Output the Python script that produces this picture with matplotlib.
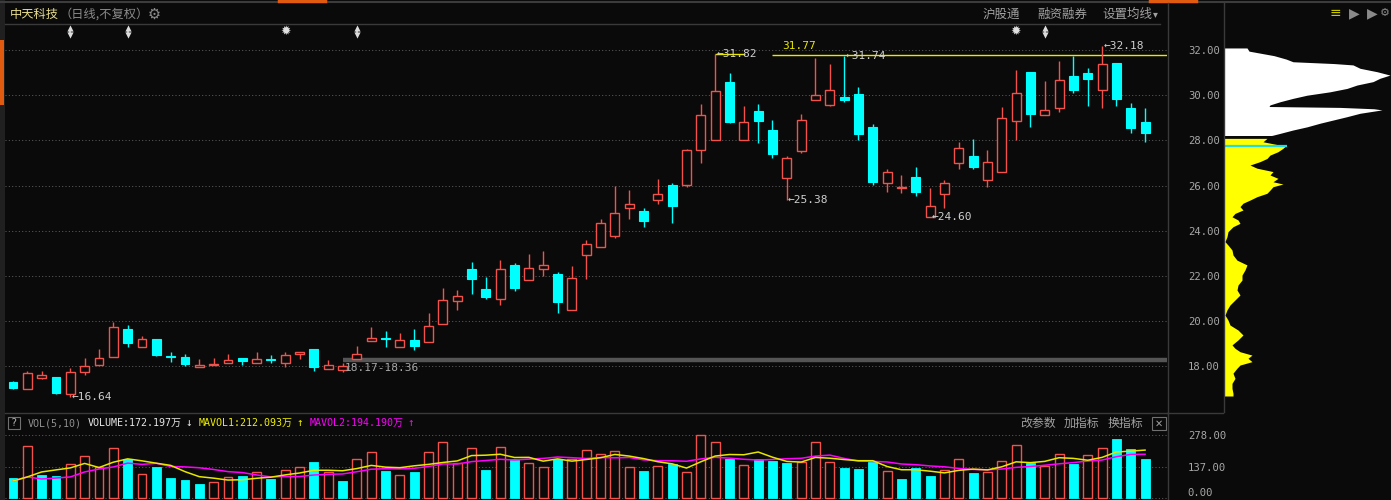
import matplotlib
matplotlib.use('Agg')
import matplotlib.pyplot as plt
import numpy as np
import pandas as pd
from matplotlib.patches import Rectangle
from matplotlib.lines import Line2D
from matplotlib.transforms import blended_transform_factory

# ---------------- data ----------------
opens = [17.31, 17.00, 17.49, 17.53, 16.78, 17.75, 18.06, 18.42, 19.65, 18.86,
         19.21, 18.43, 18.42, 17.97, 18.06, 18.15, 18.37, 18.15, 18.29, 18.15,
         18.55, 18.77, 17.88, 17.84, 18.33, 19.12, 19.22, 18.86, 19.17, 19.08,
         19.88, 20.89, 22.31, 21.42, 20.98, 22.49, 21.82, 22.31, 22.09, 20.50,
         22.93, 23.28, 23.77, 25.01, 24.88, 25.36, 26.03, 26.03, 27.58, 28.02,
         30.58, 28.02, 29.30, 28.46, 26.34, 27.53, 29.79, 29.57, 29.92, 30.05,
         28.60, 26.12, 25.88, 26.38, 24.60, 25.63, 27.00, 27.31, 26.25, 26.60,
         28.86, 31.03, 29.12, 29.43, 30.85, 30.98, 30.23, 31.42, 29.43, 28.81]
highs = [17.35, 17.80, 17.80, 17.55, 17.93, 18.37, 18.77, 19.96, 19.83, 19.35,
         19.21, 18.64, 18.55, 18.33, 18.37, 18.55, 18.37, 18.64, 18.50, 18.64,
         18.64, 18.77, 18.28, 18.15, 18.90, 19.74, 19.57, 19.48, 19.65, 20.36,
         21.47, 21.38, 22.62, 21.96, 22.70, 22.58, 22.97, 23.10, 22.18, 22.44,
         23.60, 24.52, 25.98, 25.80, 25.01, 26.29, 26.12, 27.62, 29.61, 31.82,
         30.98, 29.52, 29.61, 28.90, 27.31, 29.17, 31.65, 31.38, 31.74, 30.36,
         28.73, 26.73, 26.47, 26.82, 25.90, 26.25, 27.93, 28.06, 27.58, 29.48,
         31.12, 31.03, 30.63, 31.51, 31.74, 31.20, 32.18, 31.42, 29.65, 29.43]
lows = [17.02, 17.00, 17.44, 16.78, 16.64, 17.62, 18.06, 18.42, 18.86, 18.86,
        18.48, 18.20, 18.00, 17.97, 18.06, 18.15, 18.06, 18.15, 18.15, 17.97,
        18.33, 17.80, 17.88, 17.75, 18.33, 19.12, 18.86, 18.86, 18.73, 19.08,
        19.88, 20.50, 21.20, 20.98, 20.72, 21.34, 21.82, 22.00, 20.36, 20.50,
        21.87, 23.28, 23.68, 24.52, 24.17, 25.18, 24.35, 25.94, 27.00, 28.02,
        28.76, 28.02, 27.88, 27.22, 25.38, 27.44, 29.79, 29.52, 29.70, 28.02,
        26.03, 25.72, 25.68, 25.54, 24.60, 25.00, 26.73, 26.73, 25.94, 26.60,
        28.02, 28.60, 29.12, 29.26, 30.10, 29.52, 29.43, 29.52, 28.33, 27.93]
closes = [17.05, 17.71, 17.62, 16.82, 17.75, 18.00, 18.37, 19.74, 19.04, 19.21,
          18.50, 18.42, 18.11, 18.06, 18.10, 18.28, 18.24, 18.33, 18.28, 18.50,
          18.64, 17.97, 18.06, 18.02, 18.55, 19.26, 19.21, 19.17, 18.90, 19.79,
          20.94, 21.12, 21.87, 21.07, 22.31, 21.47, 22.35, 22.49, 20.85, 21.91,
          23.42, 24.35, 24.79, 25.19, 24.43, 25.63, 25.10, 27.58, 29.12, 30.19,
          28.81, 28.81, 28.86, 27.40, 27.22, 28.90, 30.00, 30.23, 29.79, 28.28,
          26.16, 26.60, 25.92, 25.72, 25.10, 26.12, 27.66, 26.82, 27.04, 28.99,
          30.10, 29.17, 29.35, 30.67, 30.23, 30.72, 31.38, 29.83, 28.55, 28.33]
volumes = [88, 229, 101, 97, 149, 187, 138, 219, 171, 105,
           135, 90, 81, 60, 72, 93, 97, 113, 85, 122,
           135, 157, 113, 74, 171, 204, 119, 101, 115, 203,
           246, 153, 219, 124, 224, 174, 156, 135, 174, 174,
           210, 196, 207, 138, 119, 140, 150, 113, 277, 246,
           174, 144, 174, 162, 153, 160, 246, 157, 132, 128,
           160, 118, 85, 132, 97, 122, 174, 112, 115, 165,
           232, 156, 140, 196, 150, 191, 219, 259, 216, 172.197]
vol_up = [0, 1, 0, 0, 1, 1, 1, 1, 0, 1, 0, 0, 0, 0, 1, 1, 0, 1, 0, 1,
          1, 0, 1, 0, 1, 1, 0, 1, 0, 1, 1, 1, 1, 0, 1, 0, 1, 1, 0, 1,
          1, 1, 1, 1, 0, 1, 0, 1, 1, 1, 0, 1, 0, 0, 0, 1, 1, 1, 0, 0,
          0, 1, 0, 0, 0, 1, 1, 0, 1, 1, 1, 0, 1, 1, 0, 1, 1, 0, 0, 0]
# moving averages of the first bars depend on earlier (unseen) sessions
ma5_head = [75, 93, 115, 124]
ma10_head = [75, 93, 84, 88, 93, 115, 128, 137, 154]

price_ticks = [18, 20, 22, 24, 26, 28, 30, 32]
vol_ticks = [0, 137, 278]

# chip distribution (price level, bar length)
chip_price = [32.09, 31.95, 31.75, 31.60, 31.48, 31.40, 31.34, 31.19, 31.04, 30.89,
              30.75, 30.60, 30.45, 30.30, 30.15, 30.00, 29.86, 29.71, 29.57, 29.50,
              29.46, 29.40, 29.35, 29.20, 29.05, 28.90, 28.76, 28.60, 28.46, 28.31,
              28.22, 28.09, 27.94, 27.80, 27.77, 27.65, 27.50, 27.35, 27.20, 27.06,
              26.91, 26.77, 26.62, 26.47, 26.32, 26.17, 26.07, 25.95, 25.80, 25.66,
              25.51, 25.36, 25.22, 25.07, 24.92, 24.77, 24.62, 24.48, 24.33, 24.18,
              23.96, 23.74, 23.52, 23.37, 23.15, 22.93, 22.70, 22.49, 22.27, 22.04,
              21.82, 21.60, 21.38, 21.16, 20.94, 20.72, 20.50, 20.27, 20.05, 19.83,
              19.61, 19.39, 19.17, 18.95, 18.80, 18.65, 18.50, 18.36, 18.21, 18.06,
              17.92, 17.70, 17.47, 17.25, 17.03, 16.81, 16.69]
chip_width = [23, 25, 50, 62, 69, 110, 129, 136, 153, 166,
              156, 149, 133, 123, 106, 83, 69, 56, 46, 45,
              116, 150, 158, 136, 123, 109, 96, 83, 69, 56,
              48, 43, 39, 55, 62, 59, 54, 46, 43, 36,
              26, 33, 49, 46, 54, 49, 59, 49, 46, 43,
              33, 26, 19, 16, 19, 11, 8, 14, 16, 9,
              4, 3, 1, 4, 8, 9, 13, 23, 21, 18,
              18, 14, 13, 16, 11, 6, 3, 1, 4, 6,
              14, 19, 14, 8, 11, 16, 28, 24, 28, 16,
              13, 9, 11, 8, 8, 9, 9]
chip_split = 28.22
avg_cost = 27.77

marks_arrow = [4, 8, 24, 72]
marks_star = [19, 70]
extreme_notes = [(4, '16.64', 'low'), (49, '31.82', 'high'), (54, '25.38', 'low'),
                 (58, '31.74', 'high'), (64, '24.60', 'low'), (76, '32.18', 'high')]
resist_level = 31.77
resist_start = 53
support_band = (18.17, 18.36)
support_start = 23

# ---------------- style ----------------
W, H = 1391, 500
BG = '#0a0a0a'
RED = '#f2524c'
CYAN = '#00ffff'
GRID = '#5a5a5a'
TXT = '#a8a8a8'
FRAME = '#333333'
YEL = '#ffff00'
MAG = '#ff00ff'
MONO = ['DejaVu Sans Mono', 'Noto Sans CJK SC']
CJK = ['Noto Sans CJK SC', 'DejaVu Sans']

fig = plt.figure(figsize=(W / 100, H / 100), dpi=100, facecolor=BG)


def rect(x0, y0, x1, y1):
    return [x0 / W, 1 - y1 / H, (x1 - x0) / W, (y1 - y0) / H]


def fx(x):
    return x / W


def fy(y):
    return 1 - y / H


n = len(closes)
idx = np.arange(n)
o = np.array(opens); c = np.array(closes); h = np.array(highs); l = np.array(lows)
up = c >= o

PX_PER_BAR = 14.33
X0 = 13.0
def xlim_for(left, right):
    return ((left - X0) / PX_PER_BAR, (right - X0) / PX_PER_BAR)

Y32, PPU = 50.0, 22.6
def plim(top, bottom):
    return (32 - (bottom - Y32) / PPU, 32 + (Y32 - top) / PPU)

# ---------------- main price axes ----------------
ax = fig.add_axes(rect(5, 24, 1167, 412), facecolor=BG)
ax.set_xlim(*xlim_for(5, 1167))
ax.set_ylim(*plim(24, 412))
for s in ax.spines.values():
    s.set_visible(False)
ax.set_xticks([])
ax.yaxis.tick_right()
ax.set_yticks(price_ticks)
ax.set_yticklabels([f'{t:.2f}' for t in price_ticks], color=TXT,
                   fontsize=7.6, family=MONO)
ax.tick_params(axis='y', length=0, pad=15)
for t in price_ticks:
    ax.axhline(t, color=GRID, lw=0.75, ls=(0, (1, 2.2)), zorder=0)

bw = 0.62
body_lo = np.minimum(o, c)
body_h = np.maximum(np.abs(c - o), 0.045)
ax.bar(idx[up], body_h[up], bottom=body_lo[up], width=bw, facecolor=BG,
       edgecolor=RED, linewidth=1.0, zorder=3)
ax.bar(idx[~up], body_h[~up], bottom=body_lo[~up], width=bw, facecolor=CYAN,
       edgecolor=CYAN, linewidth=0.8, zorder=3)
wcol = np.where(up, RED, CYAN)
ax.vlines(idx, np.maximum(o, c), h, colors=wcol, lw=1.0, zorder=2)
ax.vlines(idx, l, np.minimum(o, c), colors=wcol, lw=1.0, zorder=2)

# support band bar and label
ax.hlines(np.mean(support_band) + 0.03, support_start, xlim_for(5, 1167)[1],
          color='#555555', lw=3.2, zorder=1)
ax.text(support_start + 0.15, np.mean(support_band) - 0.12,
        f'{support_band[0]:.2f}-{support_band[1]:.2f}', color=TXT,
        fontsize=8, family=MONO, va='top', ha='left', zorder=4)

# resistance line
ax.hlines(resist_level, resist_start - 0.03, xlim_for(5, 1167)[1], color='#e8e800',
          lw=1.0, zorder=1)
ax.text(resist_start + 0.65, resist_level + 0.18, f'{resist_level:.2f}', color='#e8e800',
        fontsize=8, family=MONO, va='bottom', ha='left')
ax.hlines(highs[49] + 0.01, 49, 51.1, color='#e8e800', lw=1.0, zorder=1)

# extreme notes
for i, txt, kind in extreme_notes:
    yv = highs[i] if kind == 'high' else lows[i]
    ax.text(i + 0.08, yv, '\u2190' + txt, color='#cfcfcf', fontsize=8,
            family=MONO, va='center', ha='left', zorder=5)

# top markers
tr = blended_transform_factory(ax.transData, ax.transAxes)
ax.scatter(marks_arrow, [0.9905] * len(marks_arrow), marker='^', s=20, color='#dcdcdc',
           transform=tr, linewidths=0, zorder=5)
ax.scatter(marks_arrow, [0.9725] * len(marks_arrow), marker='v', s=20, color='#dcdcdc',
           transform=tr, linewidths=0, zorder=5)
ax.vlines(marks_arrow, 0.975, 0.988, transform=tr, colors='#dcdcdc', lw=1.2, zorder=5)
for i in marks_star:
    ax.text(i, 0.981, '\u2739', transform=tr, color='#e0e0e0', fontsize=9,
            ha='center', va='center', family='DejaVu Sans')

# ---------------- volume axes ----------------
axv = fig.add_axes(rect(5, 414, 1167, 500), facecolor=BG)
axv.set_xlim(*xlim_for(5, 1167))
VPX = 0.2266
axv.set_ylim((498 - 500) / VPX, (498 - 414) / VPX)
for s in axv.spines.values():
    s.set_visible(False)
axv.set_xticks([])
axv.yaxis.tick_right()
axv.set_yticks(vol_ticks)
axv.set_yticklabels([f'{t:.2f}' for t in vol_ticks], color=TXT, fontsize=7.6,
                    family=MONO)
axv.tick_params(axis='y', length=0, pad=15)
axv.get_yticklabels()[0].set_va('bottom')
for t in vol_ticks:
    axv.axhline(t, color=GRID, lw=0.75, ls=(0, (1, 2.2)), zorder=0)

vol = np.array(volumes, dtype=float)
vu = np.array(vol_up, dtype=bool)
axv.bar(idx[vu], vol[vu], width=bw, facecolor=BG, edgecolor=RED, lw=1.0, zorder=2)
axv.bar(idx[~vu], vol[~vu], width=bw, facecolor=CYAN, edgecolor=CYAN, lw=0.6, zorder=2)

vs = pd.Series(vol)
ma5 = vs.rolling(5).mean().to_numpy()
ma10 = vs.rolling(10).mean().to_numpy()
ma5[:len(ma5_head)] = ma5_head
ma10[:len(ma10_head)] = ma10_head
axv.plot(idx, ma10, color=MAG, lw=1.1, zorder=3)
axv.plot(idx, ma5, color='#e6e600', lw=1.1, zorder=4)

# ---------------- chip distribution ----------------
axc = fig.add_axes(rect(1224, 24, 1391, 412), facecolor=BG)
axc.set_xlim(0, 167)
axc.set_ylim(*plim(24, 412))
axc.axis('off')
cp = np.array(chip_price); cw = np.array(chip_width, dtype=float)
hi = cp >= chip_split
axc.fill_betweenx(cp[hi], 0, cw[hi], color='white', lw=0)
axc.fill_betweenx(cp[~hi], 0, cw[~hi], color=YEL, lw=0)
axc.fill_betweenx([chip_split - 0.005, chip_split + 0.005], 0, [cw[hi][-1], cw[hi][-1]],
                  color='white', lw=0)
axc.hlines(avg_cost, 0, 63, color='#22dddd', lw=1.6)

# ---------------- frame lines & header ----------------
def fline(x0, y0, x1, y1, color=FRAME, lw=1.0):
    fig.add_artist(Line2D([fx(x0), fx(x1)], [fy(y0), fy(y1)], color=color, lw=lw))

fline(0, 2, 1391, 2, '#3c3c3c', 1.5)
fline(279, 0.8, 325, 0.8, '#e05a10', 2.5)
fline(1150, 0.8, 1196, 0.8, '#e05a10', 2.5)
fline(5, 23.5, 1160, 23.5, '#3a3a3a', 1.0)
fline(1167.5, 3, 1167.5, 500, '#3a3a3a', 1.0)
fline(1223.5, 3, 1223.5, 412, '#3a3a3a', 1.0)
fline(5, 413, 1167, 413, '#3a3a3a', 1.0)
fline(1167, 412.5, 1223, 412.5, '#3a3a3a', 1.0)
fig.add_artist(Rectangle((0, 0), fx(5), 1, transform=fig.transFigure,
                         color='#202020', lw=0))
fig.add_artist(Rectangle((0, fy(105)), fx(4), (105 - 40) / H, transform=fig.transFigure,
                         color='#e05a10', lw=0))

fig.text(fx(10), fy(14), '中天科技', color='#e8dc8c', fontsize=8.8, family=CJK,
         va='center', ha='left')
fig.text(fx(59), fy(14), '（日线,不复权）', color='#8c8c8c', fontsize=8.8, family=CJK,
         va='center', ha='left')
fig.text(fx(154), fy(14), '\u2699', color='#8c8c8c', fontsize=10.5, family=['DejaVu Sans'],
         va='center', ha='center')
fig.text(fx(983), fy(14), '沪股通', color='#a0a0a0', fontsize=9, family=CJK,
         va='center', ha='left')
fig.text(fx(1037), fy(14), '融资融券', color='#a0a0a0', fontsize=9, family=CJK,
         va='center', ha='left')
fig.text(fx(1102), fy(14), '设置均线', color='#a0a0a0', fontsize=9, family=CJK,
         va='center', ha='left')
fig.text(fx(1155), fy(14), '\u25be', color='#a0a0a0', fontsize=7, family=['DejaVu Sans'],
         va='center', ha='center')
fig.text(fx(1335), fy(13), '\u2261', color='#c8c800', fontsize=10, family=['DejaVu Sans'],
         va='center', ha='center')
fig.text(fx(1354), fy(13), '\u25b6', color='#8a8a8a', fontsize=10, family=['DejaVu Sans'],
         va='center', ha='center')
fig.text(fx(1372), fy(13), '\u25b6', color='#8a8a8a', fontsize=10, family=['DejaVu Sans'],
         va='center', ha='center')
fig.text(fx(1385), fy(13), '\u2699', color='#8a8a8a', fontsize=8, family=['DejaVu Sans'],
         va='center', ha='center')

# volume header
fig.add_artist(Rectangle((fx(8), fy(429)), 12 / W, 12 / H, transform=fig.transFigure,
                         fill=False, edgecolor='#707070', lw=0.8))
fig.text(fx(14), fy(423), '?', color='#b0b0b0', fontsize=7.5, family=MONO,
         va='center', ha='center')
fig.text(fx(28), fy(423), 'VOL(5,10)', color='#909090', fontsize=7.2, family=MONO,
         va='center', ha='left')
fig.text(fx(88), fy(423), f'VOLUME:{volumes[-1]:.3f}万', color='#e6e6e6', fontsize=7.2,
         family=MONO, va='center', ha='left')
fig.text(fx(189), fy(423), '\u2193', color='#e6e6e6', fontsize=8, family=MONO,
         va='center', ha='center')
fig.text(fx(199), fy(423), 'MAVOL1:212.093万', color='#f0f000', fontsize=7.2,
         family=MONO, va='center', ha='left')
fig.text(fx(300), fy(423), '\u2191', color='#f0f000', fontsize=8, family=MONO,
         va='center', ha='center')
fig.text(fx(310), fy(423), 'MAVOL2:194.190万', color='#ff00ff', fontsize=7.2,
         family=MONO, va='center', ha='left')
fig.text(fx(411), fy(423), '\u2191', color='#ff00ff', fontsize=8, family=MONO,
         va='center', ha='center')
for x0, s in [(1020, '改参数'), (1064, '加指标'), (1108, '换指标')]:
    fig.text(fx(x0), fy(423), s, color='#a0a0a0', fontsize=8.6, family=CJK,
             va='center', ha='left')
fig.add_artist(Rectangle((fx(1152), fy(430)), 14 / W, 13 / H, transform=fig.transFigure,
                         fill=False, edgecolor='#707070', lw=0.8))
fig.text(fx(1159), fy(423.5), '\u2715', color='#a0a0a0', fontsize=7,
         family=['DejaVu Sans'], va='center', ha='center')

fig.savefig('out.png', dpi=100, facecolor=BG)
